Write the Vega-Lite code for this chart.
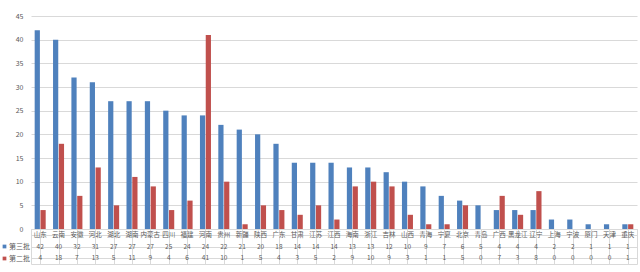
{
  "$schema": "https://vega.github.io/schema/vega-lite/v6.json",
  "padding": {"left": 0, "top": 12, "right": 2, "bottom": 4},
  "background": "white",
  "config": {
    "font": "Noto Sans CJK SC",
    "view": {"stroke": null},
    "axis": {"labelColor": "#595959", "labelFont": "Noto Sans CJK SC"}
  },
  "datasets": {
    "d": [
      {"p": "山东", "b": "第三批", "v": 42}, {"p": "山东", "b": "第二批", "v": 4},
      {"p": "云南", "b": "第三批", "v": 40}, {"p": "云南", "b": "第二批", "v": 18},
      {"p": "安徽", "b": "第三批", "v": 32}, {"p": "安徽", "b": "第二批", "v": 7},
      {"p": "河北", "b": "第三批", "v": 31}, {"p": "河北", "b": "第二批", "v": 13},
      {"p": "湖北", "b": "第三批", "v": 27}, {"p": "湖北", "b": "第二批", "v": 5},
      {"p": "湖南", "b": "第三批", "v": 27}, {"p": "湖南", "b": "第二批", "v": 11},
      {"p": "内蒙古", "b": "第三批", "v": 27}, {"p": "内蒙古", "b": "第二批", "v": 9},
      {"p": "四川", "b": "第三批", "v": 25}, {"p": "四川", "b": "第二批", "v": 4},
      {"p": "福建", "b": "第三批", "v": 24}, {"p": "福建", "b": "第二批", "v": 6},
      {"p": "河南", "b": "第三批", "v": 24}, {"p": "河南", "b": "第二批", "v": 41},
      {"p": "贵州", "b": "第三批", "v": 22}, {"p": "贵州", "b": "第二批", "v": 10},
      {"p": "新疆", "b": "第三批", "v": 21}, {"p": "新疆", "b": "第二批", "v": 1},
      {"p": "陕西", "b": "第三批", "v": 20}, {"p": "陕西", "b": "第二批", "v": 5},
      {"p": "广东", "b": "第三批", "v": 18}, {"p": "广东", "b": "第二批", "v": 4},
      {"p": "甘肃", "b": "第三批", "v": 14}, {"p": "甘肃", "b": "第二批", "v": 3},
      {"p": "江苏", "b": "第三批", "v": 14}, {"p": "江苏", "b": "第二批", "v": 5},
      {"p": "江西", "b": "第三批", "v": 14}, {"p": "江西", "b": "第二批", "v": 2},
      {"p": "海南", "b": "第三批", "v": 13}, {"p": "海南", "b": "第二批", "v": 9},
      {"p": "浙江", "b": "第三批", "v": 13}, {"p": "浙江", "b": "第二批", "v": 10},
      {"p": "吉林", "b": "第三批", "v": 12}, {"p": "吉林", "b": "第二批", "v": 9},
      {"p": "山西", "b": "第三批", "v": 10}, {"p": "山西", "b": "第二批", "v": 3},
      {"p": "青海", "b": "第三批", "v": 9}, {"p": "青海", "b": "第二批", "v": 1},
      {"p": "宁夏", "b": "第三批", "v": 7}, {"p": "宁夏", "b": "第二批", "v": 1},
      {"p": "北京", "b": "第三批", "v": 6}, {"p": "北京", "b": "第二批", "v": 5},
      {"p": "青岛", "b": "第三批", "v": 5}, {"p": "青岛", "b": "第二批", "v": 0},
      {"p": "广西", "b": "第三批", "v": 4}, {"p": "广西", "b": "第二批", "v": 7},
      {"p": "黑龙江", "b": "第三批", "v": 4}, {"p": "黑龙江", "b": "第二批", "v": 3},
      {"p": "辽宁", "b": "第三批", "v": 4}, {"p": "辽宁", "b": "第二批", "v": 8},
      {"p": "上海", "b": "第三批", "v": 2}, {"p": "上海", "b": "第二批", "v": 0},
      {"p": "宁波", "b": "第三批", "v": 2}, {"p": "宁波", "b": "第二批", "v": 0},
      {"p": "厦门", "b": "第三批", "v": 1}, {"p": "厦门", "b": "第二批", "v": 0},
      {"p": "天津", "b": "第三批", "v": 1}, {"p": "天津", "b": "第二批", "v": 0},
      {"p": "重庆", "b": "第三批", "v": 1}, {"p": "重庆", "b": "第二批", "v": 1}
    ]
  },
  "spacing": 0,
  "bounds": "flush",
  "vconcat": [
    {
      "width": 606,
      "height": 213,
      "data": {"name": "d"},
      "mark": {"type": "bar"},
      "encoding": {
        "x": {"field": "p", "type": "nominal", "sort": null,
          "scale": {"paddingInner": 0.4, "paddingOuter": 0.2},
          "axis": {"title": null, "labels": false, "ticks": false, "domainColor": "#d9d9d9"}},
        "xOffset": {"field": "b", "type": "nominal", "sort": ["第三批", "第二批"], "scale": {"paddingInner": 0.1}},
        "y": {"field": "v", "type": "quantitative", "scale": {"domain": [0, 45]},
          "axis": {"title": null, "values": [0, 5, 10, 15, 20, 25, 30, 35, 40, 45], "domain": false, "ticks": false,
            "gridColor": "#d9d9d9", "labelFontSize": 7, "labelPadding": 8}},
        "color": {"field": "b", "type": "nominal",
          "scale": {"domain": ["第三批", "第二批"], "range": ["#4F81BD", "#C0504D"]}, "legend": null}
      }
    },
    {
      "width": 606,
      "height": 35,
      "view": {"stroke": "#d9d9d9"},
      "data": {"name": "d"},
      "encoding": {
        "x": {"field": "p", "type": "nominal", "sort": null,
          "scale": {"paddingInner": 0, "paddingOuter": 0},
          "axis": {"title": null, "labels": false, "ticks": false, "domain": false, "grid": true, "bandPosition": 0, "gridColor": "#d9d9d9"}}
      },
      "layer": [
        {
          "mark": {"type": "text", "fontSize": 6.5, "color": "#595959"},
          "encoding": {
            "y": {"field": "b", "type": "nominal", "scale": {"domain": ["省份", "第三批", "第二批"]},
              "axis": {"title": null, "labels": false, "ticks": false, "domain": false, "grid": true, "bandPosition": 0, "gridColor": "#d9d9d9"}},
            "text": {"field": "v", "type": "quantitative"}
          }
        },
        {
          "transform": [{"filter": "datum.b == '第三批'"}],
          "mark": {"type": "text", "fontSize": 6.5, "color": "#595959"},
          "encoding": {
            "y": {"datum": "省份", "type": "nominal"},
            "text": {"field": "p", "type": "nominal"}
          }
        },
        {
          "mark": {"type": "point", "shape": "square", "filled": true, "opacity": 0},
          "encoding": {
            "y": {"field": "b", "type": "nominal"},
            "color": {"field": "b", "type": "nominal",
              "scale": {"domain": ["第三批", "第二批"], "range": ["#4F81BD", "#C0504D"]},
              "legend": {"orient": "left", "title": " ", "titleFontSize": 7, "titlePadding": 7,
                "symbolType": "square", "symbolSize": 14, "symbolOpacity": 1, "symbolStrokeWidth": 0,
                "labelFontSize": 7, "labelColor": "#595959", "offset": 1, "rowPadding": 4, "padding": 0, "labelOffset": 1}}
          }
        }
      ]
    }
  ],
  "resolve": {"scale": {"color": "independent"}, "legend": {"color": "independent"}}
}
